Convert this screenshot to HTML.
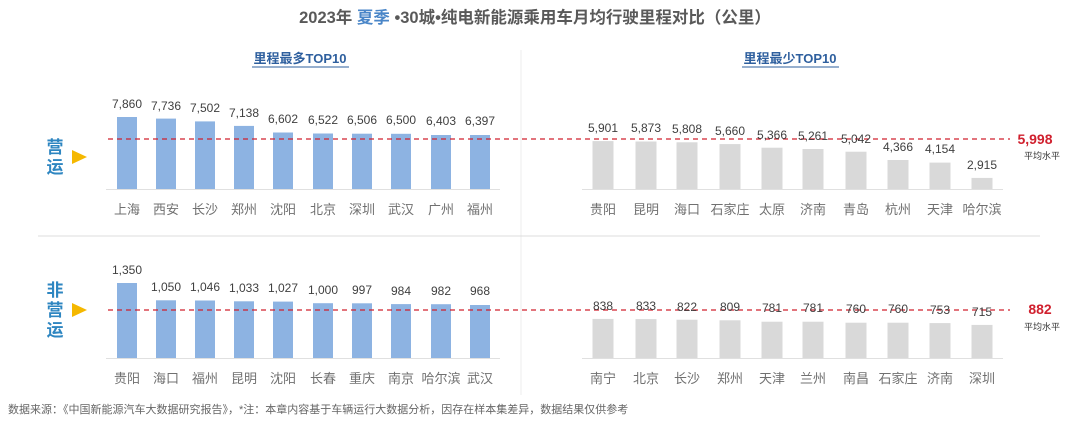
<!DOCTYPE html>
<html><head><meta charset="utf-8"><style>
body{margin:0;background:#fff;}
svg{display:block;font-family:"Liberation Sans","Noto Sans CJK SC",sans-serif;}
.v{font-size:12px;fill:#404040;text-anchor:middle;}
.c{font-size:13px;fill:#707070;text-anchor:middle;}
.b{fill:#8db3e2;}
.g{fill:#d9d9d9;}
</style></head><body>
<svg width="1080" height="440" viewBox="0 0 1080 440">
<text x="535" y="23" text-anchor="middle" font-size="16.5" font-weight="bold" fill="#595959">2023年 <tspan fill="#4a86c8">夏季</tspan> •30城•纯电新能源乘用车月均行驶里程对比（公里）</text>
<text x="300" y="63" text-anchor="middle" font-size="13" font-weight="bold" fill="#2e5f9e">里程最多TOP10</text>
<line x1="252" y1="67" x2="349" y2="67" stroke="#2e5f9e" stroke-width="1"/>
<text x="790" y="63" text-anchor="middle" font-size="13" font-weight="bold" fill="#2e5f9e">里程最少TOP10</text>
<line x1="742" y1="67" x2="839" y2="67" stroke="#2e5f9e" stroke-width="1"/>
<line x1="521" y1="50" x2="521" y2="395" stroke="#ececec" stroke-width="1"/>
<line x1="38" y1="236" x2="1040" y2="236" stroke="#dcdcdc" stroke-width="1"/>
<g font-size="17" font-weight="bold" fill="#2e86c1" text-anchor="middle">
<text x="55" y="153">营</text><text x="55" y="173">运</text>
<text x="55" y="296">非</text><text x="55" y="316">营</text><text x="55" y="336">运</text>
</g>
<polygon points="72,150 87,157 72,164" fill="#f5b800"/>
<polygon points="72,303 87,310 72,317" fill="#f5b800"/>
<line x1="106" y1="189.5" x2="500" y2="189.5" stroke="#e0e0e0"/>
<line x1="582" y1="189.5" x2="1003" y2="189.5" stroke="#e0e0e0"/>
<line x1="106" y1="358.5" x2="500" y2="358.5" stroke="#e0e0e0"/>
<line x1="582" y1="358.5" x2="1003" y2="358.5" stroke="#e0e0e0"/>
<g class="b">
<rect x="117" y="117" width="20" height="72"/><rect x="156" y="118.6" width="20" height="70.4"/><rect x="195" y="121.4" width="20" height="67.6"/><rect x="234" y="125.9" width="20" height="63.1"/><rect x="273" y="132.5" width="20" height="56.5"/><rect x="313" y="133.5" width="20" height="55.5"/><rect x="352" y="133.7" width="20" height="55.3"/><rect x="391" y="133.8" width="20" height="55.2"/><rect x="431" y="135" width="20" height="54"/><rect x="470" y="135" width="20" height="54"/>
<rect x="117" y="283" width="20" height="75"/><rect x="156" y="300.3" width="20" height="57.7"/><rect x="195" y="300.5" width="20" height="57.5"/><rect x="234" y="301.3" width="20" height="56.7"/><rect x="273" y="301.6" width="20" height="56.4"/><rect x="313" y="303.2" width="20" height="54.8"/><rect x="352" y="303.3" width="20" height="54.7"/><rect x="391" y="304.1" width="20" height="53.9"/><rect x="431" y="304.2" width="20" height="53.8"/><rect x="470" y="305" width="20" height="53"/>
</g>
<g class="g">
<rect x="592.5" y="141.1" width="21" height="47.9"/><rect x="635.5" y="141.5" width="21" height="47.5"/><rect x="676.5" y="142.3" width="21" height="46.7"/><rect x="719.5" y="144.1" width="21" height="44.9"/><rect x="761.5" y="147.7" width="21" height="41.3"/><rect x="802.5" y="149" width="21" height="40"/><rect x="845.5" y="151.7" width="21" height="37.3"/><rect x="887.5" y="160" width="21" height="29"/><rect x="929.5" y="162.6" width="21" height="26.4"/><rect x="971.5" y="177.9" width="21" height="11.1"/>
<rect x="592.5" y="318.9" width="21" height="39.1"/><rect x="635.5" y="319.1" width="21" height="38.9"/><rect x="676.5" y="319.7" width="21" height="38.3"/><rect x="719.5" y="320.3" width="21" height="37.7"/><rect x="761.5" y="321.7" width="21" height="36.3"/><rect x="802.5" y="321.7" width="21" height="36.3"/><rect x="845.5" y="322.7" width="21" height="35.3"/><rect x="887.5" y="322.7" width="21" height="35.3"/><rect x="929.5" y="323.1" width="21" height="34.9"/><rect x="971.5" y="324.9" width="21" height="33.1"/>
</g>
<line x1="108" y1="139" x2="1010" y2="139" stroke="#d0202e" stroke-width="1.3" stroke-dasharray="5,4"/>
<line x1="108" y1="310" x2="1010" y2="310" stroke="#d0202e" stroke-width="1.3" stroke-dasharray="5,4"/>
<g class="v">
<text x="127" y="108">7,860</text><text x="166" y="110">7,736</text><text x="205" y="112">7,502</text><text x="244" y="117">7,138</text><text x="283" y="123">6,602</text><text x="323" y="124">6,522</text><text x="362" y="124">6,506</text><text x="401" y="124">6,500</text><text x="441" y="125">6,403</text><text x="480" y="125">6,397</text>
<text x="603" y="132">5,901</text><text x="646" y="132">5,873</text><text x="687" y="133">5,808</text><text x="730" y="135">5,660</text><text x="772" y="139">5,366</text><text x="813" y="140">5,261</text><text x="856" y="143">5,042</text><text x="898" y="151">4,366</text><text x="940" y="153">4,154</text><text x="982" y="169">2,915</text>
<text x="127" y="274">1,350</text><text x="166" y="291">1,050</text><text x="205" y="291">1,046</text><text x="244" y="292">1,033</text><text x="283" y="292">1,027</text><text x="323" y="294">1,000</text><text x="362" y="294">997</text><text x="401" y="295">984</text><text x="441" y="295">982</text><text x="480" y="295">968</text>
<text x="603" y="310">838</text><text x="646" y="310">833</text><text x="687" y="311">822</text><text x="730" y="311">809</text><text x="772" y="312">781</text><text x="813" y="312">781</text><text x="856" y="313">760</text><text x="898" y="313">760</text><text x="940" y="314">753</text><text x="982" y="316">715</text>
</g>
<g class="c">
<text x="127" y="214">上海</text><text x="166" y="214">西安</text><text x="205" y="214">长沙</text><text x="244" y="214">郑州</text><text x="283" y="214">沈阳</text><text x="323" y="214">北京</text><text x="362" y="214">深圳</text><text x="401" y="214">武汉</text><text x="441" y="214">广州</text><text x="480" y="214">福州</text>
<text x="603" y="214">贵阳</text><text x="646" y="214">昆明</text><text x="687" y="214">海口</text><text x="730" y="214">石家庄</text><text x="772" y="214">太原</text><text x="813" y="214">济南</text><text x="856" y="214">青岛</text><text x="898" y="214">杭州</text><text x="940" y="214">天津</text><text x="982" y="214">哈尔滨</text>
<text x="127" y="383">贵阳</text><text x="166" y="383">海口</text><text x="205" y="383">福州</text><text x="244" y="383">昆明</text><text x="283" y="383">沈阳</text><text x="323" y="383">长春</text><text x="362" y="383">重庆</text><text x="401" y="383">南京</text><text x="441" y="383">哈尔滨</text><text x="480" y="383">武汉</text>
<text x="603" y="383">南宁</text><text x="646" y="383">北京</text><text x="687" y="383">长沙</text><text x="730" y="383">郑州</text><text x="772" y="383">天津</text><text x="813" y="383">兰州</text><text x="856" y="383">南昌</text><text x="898" y="383">石家庄</text><text x="940" y="383">济南</text><text x="982" y="383">深圳</text>
</g>
<text x="1035" y="144" text-anchor="middle" font-size="14" font-weight="bold" fill="#d0202e">5,998</text>
<text x="1042" y="159" text-anchor="middle" font-size="9" fill="#333">平均水平</text>
<text x="1040" y="314" text-anchor="middle" font-size="14" font-weight="bold" fill="#d0202e">882</text>
<text x="1042" y="330" text-anchor="middle" font-size="9" fill="#333">平均水平</text>
<text x="8" y="413" font-size="11" fill="#666">数据来源：《中国新能源汽车大数据研究报告》，*注：本章内容基于车辆运行大数据分析，因存在样本集差异，数据结果仅供参考</text>
</svg>
</body></html>
